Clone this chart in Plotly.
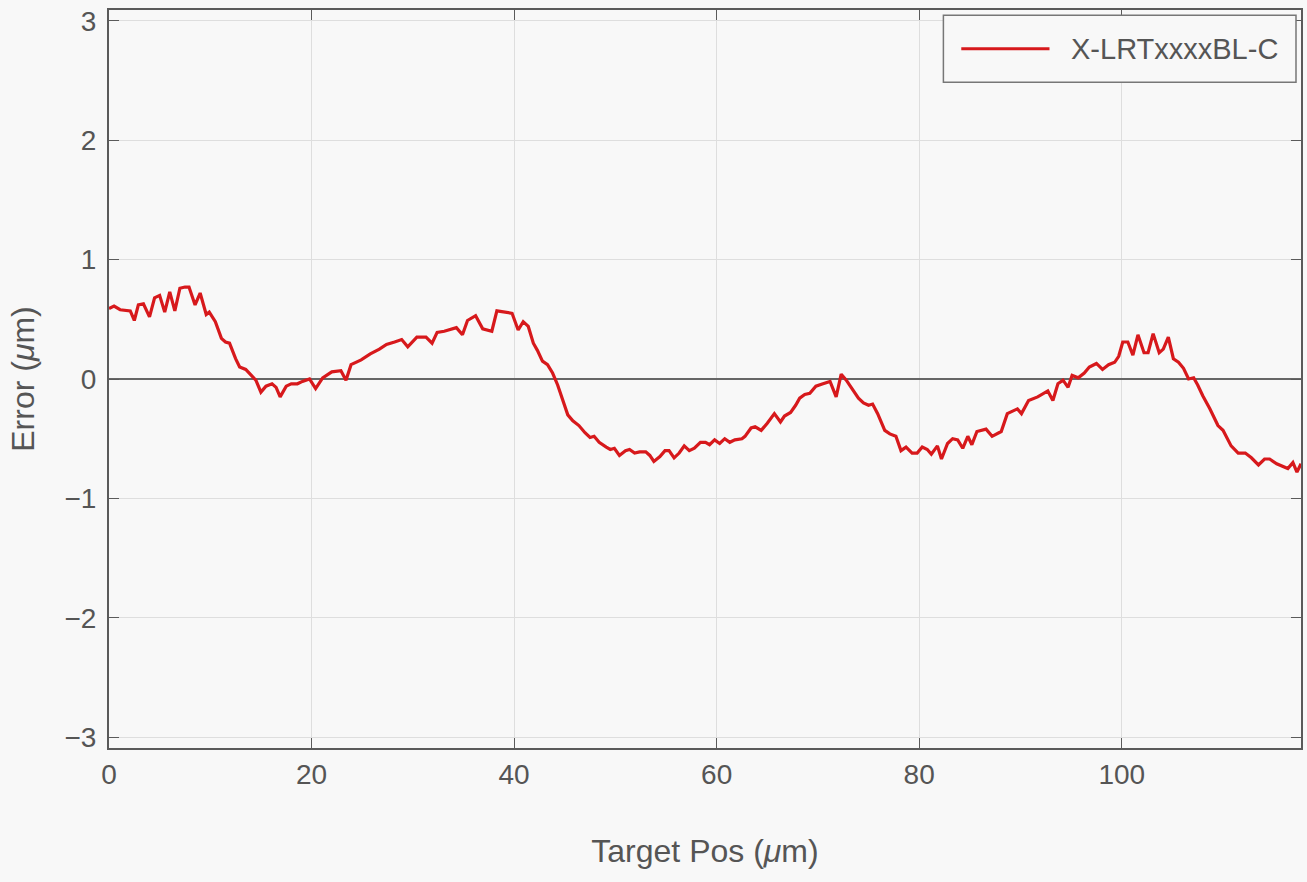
import plotly.graph_objects as go

series_name = "X-LRTxxxxBL-C"

target_pos = [
    0.0, 0.5, 1.1, 2.1, 2.5, 2.9, 3.4, 4.0, 4.5, 5.0, 5.5, 6.0, 6.5, 7.0, 7.5, 7.9,
    8.5, 9.0, 9.6, 9.9, 10.5, 11.1, 11.5, 11.9, 12.5, 12.9, 13.5, 14.0, 14.5, 15.0,
    15.5, 16.1, 16.5, 16.9, 17.5, 18.0, 18.6, 19.1, 19.8, 20.4, 21.1, 22.0, 22.9,
    23.4, 23.9, 24.9, 25.8, 26.7, 27.4, 28.2, 28.9, 29.5, 30.4, 31.3, 31.9, 32.4,
    33.1, 34.3, 34.9, 35.4, 36.2, 36.9, 37.8, 38.3, 39.1, 39.8, 40.4, 40.9, 41.4,
    41.9, 42.3, 42.8, 43.3, 43.8, 44.3, 44.8, 45.3, 45.8, 46.4, 47.0, 47.5, 47.9,
    48.4, 49.1, 49.5, 49.9, 50.4, 51.0, 51.4, 51.9, 52.4, 53.0, 53.4, 53.8, 54.4,
    54.9, 55.3, 55.8, 56.3, 56.8, 57.3, 57.8, 58.4, 58.9, 59.3, 59.8, 60.3, 60.8,
    61.3, 61.8, 62.5, 62.8, 63.4, 63.8, 64.4, 65.0, 65.7, 66.3, 66.7, 67.3, 67.8,
    68.2, 68.7, 69.2, 69.8, 70.5, 71.2, 71.8, 72.3, 72.8, 73.4, 74.0, 74.5, 75.0,
    75.4, 75.9, 76.6, 77.1, 77.7, 78.2, 78.7, 79.3, 79.8, 80.3, 80.8, 81.2, 81.8,
    82.2, 82.8, 83.3, 83.8, 84.3, 84.8, 85.2, 85.7, 86.6, 87.2, 88.1, 88.7, 89.7,
    90.1, 90.8, 91.7, 92.7, 93.2, 93.7, 94.2, 94.7, 95.1, 95.7, 96.3, 96.8, 97.5,
    98.1, 98.7, 99.3, 99.7, 100.1, 100.6, 101.1, 101.6, 102.2, 102.6, 103.1, 103.7,
    104.1, 104.6, 105.1, 105.6, 106.1, 106.6, 107.1, 107.5, 108.0, 108.7, 109.5,
    110.0, 110.8, 111.5, 112.2, 112.8, 113.5, 114.1, 114.6, 115.3, 116.0, 116.4,
    116.9, 117.3, 117.7,
]

error_um = [
    0.59, 0.61, 0.58, 0.57, 0.49, 0.62, 0.63, 0.52, 0.68, 0.70, 0.56, 0.73, 0.57, 0.76, 0.77, 0.77,
    0.62, 0.72, 0.54, 0.56, 0.48, 0.34, 0.31, 0.30, 0.17, 0.10, 0.08, 0.03, -0.01, -0.11,
    -0.06, -0.04, -0.07, -0.15, -0.06, -0.04, -0.04, -0.02, 0.00, -0.08, 0.01, 0.06, 0.07,
    -0.01, 0.12, 0.16, 0.21, 0.25, 0.29, 0.31, 0.33, 0.27, 0.35, 0.35, 0.30, 0.39,
    0.40, 0.43, 0.37, 0.49, 0.53, 0.42, 0.40, 0.57, 0.56, 0.55, 0.41, 0.48, 0.44,
    0.30, 0.24, 0.15, 0.12, 0.05, -0.05, -0.18, -0.30, -0.35, -0.39, -0.45, -0.49, -0.48,
    -0.53, -0.57, -0.59, -0.58, -0.64, -0.60, -0.59, -0.62, -0.61, -0.61, -0.64, -0.69, -0.65,
    -0.60, -0.60, -0.66, -0.62, -0.56, -0.60, -0.58, -0.53, -0.53, -0.55, -0.51, -0.54, -0.50,
    -0.53, -0.51, -0.50, -0.48, -0.41, -0.40, -0.43, -0.37, -0.29, -0.36, -0.31, -0.28, -0.22,
    -0.16, -0.13, -0.12, -0.06, -0.04, -0.02, -0.15, 0.04, -0.01, -0.09, -0.16, -0.20, -0.22,
    -0.21, -0.29, -0.43, -0.46, -0.48, -0.60, -0.57, -0.62, -0.62, -0.57, -0.59, -0.63, -0.56,
    -0.67, -0.54, -0.50, -0.51, -0.58, -0.48, -0.55, -0.44, -0.42, -0.48, -0.44, -0.29, -0.25,
    -0.29, -0.18, -0.15, -0.10, -0.18, -0.04, -0.01, -0.07, 0.03, 0.01, 0.05, 0.10, 0.13,
    0.08, 0.12, 0.14, 0.19, 0.31, 0.31, 0.20, 0.37, 0.22, 0.22, 0.38, 0.22,
    0.25, 0.35, 0.17, 0.14, 0.09, 0.00, 0.01, -0.05, -0.14, -0.25, -0.39,
    -0.43, -0.56, -0.62, -0.62, -0.66, -0.72, -0.67, -0.67, -0.71, -0.74, -0.75,
    -0.70, -0.78, -0.71,
]

x_ticks = [0, 20, 40, 60, 80, 100]
y_ticks = [-3, -2, -1, 0, 1, 2, 3]

LINE_COLOR = "#d7191c"
TEXT_COLOR = "#555555"
AXIS_COLOR = "#5a5a5a"
GRID_COLOR = "#dedede"
BG = "#f8f8f8"
FONT = "Liberation Sans, Arial, Helvetica, sans-serif"

fig = go.Figure()
fig.add_trace(go.Scatter(
    x=target_pos, y=error_um, mode="lines", name=series_name,
    line=dict(color=LINE_COLOR, width=3.2), showlegend=False,
))

axis_common = dict(
    showline=True, linecolor=AXIS_COLOR, linewidth=2, mirror="ticks",
    ticks="inside", ticklen=10, tickcolor=AXIS_COLOR, tickwidth=1,
    showgrid=True, gridcolor=GRID_COLOR, gridwidth=1,
    tickfont=dict(family=FONT, size=28, color=TEXT_COLOR),
    automargin=False,
)

fig.update_xaxes(
    range=[0, 117.7], tickvals=x_ticks, zeroline=False,
    title=dict(text="Target Pos (<i>μ</i>m)", font=dict(family=FONT, size=32, color=TEXT_COLOR), standoff=51),
    **axis_common,
)
fig.update_yaxes(
    range=[-3.09, 3.09], tickvals=y_ticks,
    zeroline=True, zerolinecolor="#666666", zerolinewidth=2,
    ticklabelstandoff=5,
    title=dict(text="Error (<i>μ</i>m)", font=dict(family=FONT, size=32, color=TEXT_COLOR), standoff=20),
    **axis_common,
)

# legend box drawn in paper coordinates
fig.add_shape(type="rect", xref="paper", yref="paper", x0=0.700, x1=0.9958, y0=0.902, y1=0.993,
              line=dict(color="#777777", width=1.5), fillcolor=BG, layer="above")
fig.add_shape(type="line", xref="paper", yref="paper", x0=0.715, x1=0.789, y0=0.9475, y1=0.9475,
              line=dict(color=LINE_COLOR, width=3.2), layer="above")
fig.add_annotation(xref="paper", yref="paper", x=0.8055, y=0.9475, xanchor="left", yanchor="middle",
                   text=series_name, showarrow=False,
                   font=dict(family=FONT, size=29, color=TEXT_COLOR))

fig.update_layout(
    width=1307, height=882,
    margin=dict(l=109, r=6, t=10, b=134),
    paper_bgcolor=BG, plot_bgcolor=BG,
    font=dict(family=FONT, color=TEXT_COLOR),
)

fig.write_html(
    "out.html",
    config={"displayModeBar": False},
    post_script="document.body.style.margin='0';document.body.style.background='#f8f8f8';",
)
